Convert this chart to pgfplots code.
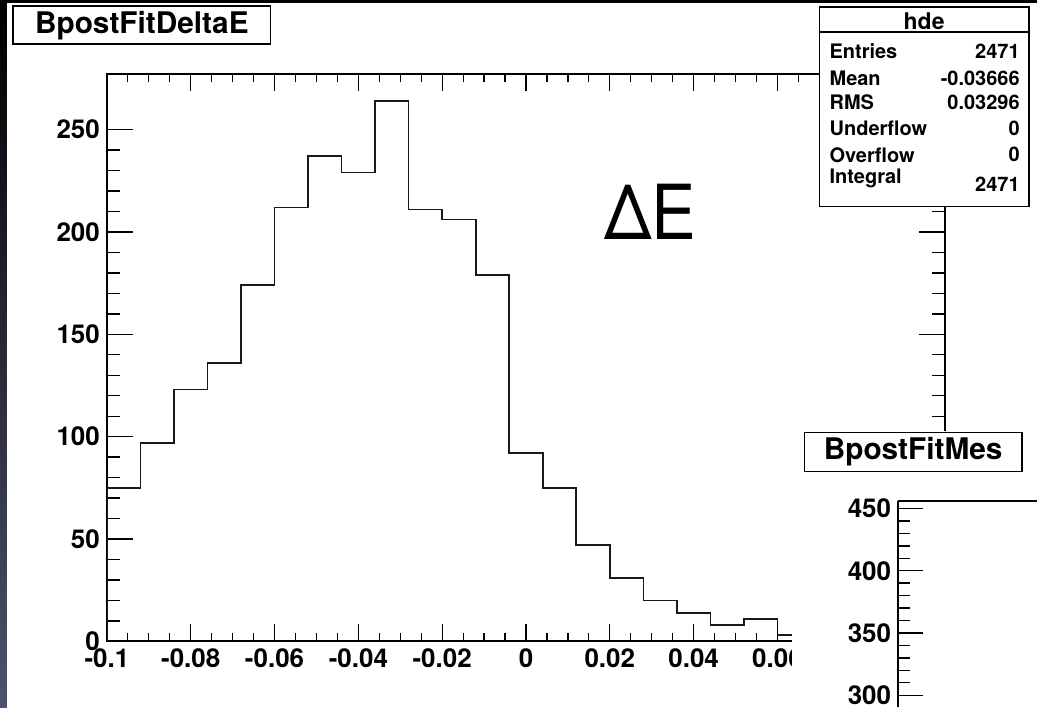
\documentclass[border=0pt]{standalone}
\usepackage{pgfplots}
\pgfplotsset{compat=1.18}
\usepackage{fontspec}
\setmainfont{TeX Gyre Heros}
\definecolor{winside}{RGB}{78,82,108}
\begin{document}
\begin{tikzpicture}[x=0.5pt,y=-0.5pt]
\fill[white] (0,0) rectangle (1038,708);
\shade[top color=black, bottom color=winside] (0,0) rectangle (7,708);
\fill[black] (0,0) rectangle (1038,3);
% title box
\draw[line width=0.6pt] (13,6) rectangle (271,44);
\node[font=\bfseries\fontsize{14.9}{15}\selectfont] at (142,25.5) {BpostFitDeltaE};
% main axis: y ticks + frame
\begin{axis}[at={(53.5pt,-37pt)}, anchor=north west, scale only axis,
  width=419.5pt, height=284pt,
  xmin=-0.1, xmax=0.1, ymin=0, ymax=277.2,
  axis line style={line width=1pt},
  tick align=inside,
  xtick=\empty,
  ytick={0,50,100,150,200,250},
  minor y tick num=4,
  major tick length=13pt, minor tick length=6.5pt,
  tick style={line width=0.7pt, black},
  /pgf/number format/assume math mode=true,
  yticklabel style={font=\bfseries\fontsize{13}{13}\selectfont}]
\addplot[const plot, black!90, line width=0.8pt] coordinates {
(-0.1,0) (-0.1,75) (-0.092,97) (-0.084,123) (-0.076,136) (-0.068,174)
(-0.06,212) (-0.052,237) (-0.044,229) (-0.036,264) (-0.028,211)
(-0.02,206) (-0.012,179) (-0.004,92) (0.004,75) (0.012,47) (0.02,31)
(0.028,20) (0.036,14) (0.044,8) (0.052,11) (0.06,3) (0.068,9)
(0.076,7) (0.084,6) (0.092,5) (0.1,5) (0.1,0)};
\end{axis}
% main axis: x ticks
\begin{axis}[at={(53.5pt,-37pt)}, anchor=north west, scale only axis,
  width=419.5pt, height=284pt,
  xmin=-0.1, xmax=0.1, ymin=0, ymax=277.2,
  axis line style={draw=none},
  tick align=inside,
  ytick=\empty,
  xtick={-0.1,-0.08,-0.06,-0.04,-0.02,0,0.02,0.04,0.06,0.08,0.1},
  xticklabels={-0.1,-0.08,-0.06,-0.04,-0.02,0,0.02,0.04,0.06,0.08,0.1},
  minor x tick num=3,
  major tick length=8.5pt, minor tick length=4pt,
  tick style={line width=0.6pt, black},
  xticklabel style={font=\bfseries\fontsize{13}{13}\selectfont}]
\end{axis}
% Delta E label
\node[font=\fontsize{38}{38}\selectfont, xscale=0.88] at (651,212) {ΔE};
% stat box
\draw[line width=0.6pt, fill=white] (820,7) rectangle (1030,207);
\draw[line width=0.6pt] (820,32) -- (1030,32);
\node[font=\bfseries\fontsize{11.5}{12}\selectfont] at (925,21) {hde};
\begin{scope}[every node/.style={font=\bfseries\fontsize{10}{10}\selectfont, inner sep=0pt}]
\node[anchor=west] at (830,51.5) {Entries};
\node[anchor=east] at (1021,51.5) {2471};
\node[anchor=west] at (830,78) {Mean};
\node[anchor=east] at (1021,78) {-0.03666};
\node[anchor=west] at (830,102) {RMS};
\node[anchor=east] at (1021,102) {0.03296};
\node[anchor=west] at (830,128) {Underflow};
\node[anchor=east] at (1021,128) {0};
\node[anchor=west] at (830,155) {Overflow};
\node[anchor=east] at (1021,155) {0};
\node[anchor=west] at (830,179) {Integral};
\node[anchor=east] at (1021,184) {2471};
\end{scope}
% second canvas overlay
\fill[white] (793,431) rectangle (1038,708);
\draw[line width=0.6pt] (805,433) rectangle (1023,472);
\node[font=\bfseries\fontsize{14.9}{15}\selectfont] at (914,452.5) {BpostFitMes};
\begin{axis}[at={(449.5pt,-250.5pt)}, anchor=north west, scale only axis,
  width=69.5pt, height=103.5pt,
  xmin=0, xmax=139, ymin=290.3, ymax=456.4,
  axis x line=top, axis y line=left,
  axis line style={line width=1pt, -},
  tick align=inside,
  xtick=\empty,
  ytick={300,350,400,450},
  minor y tick num=4,
  major tick length=12.5pt, minor tick length=6pt,
  tick style={line width=0.7pt, black},
  /pgf/number format/assume math mode=true,
  yticklabel style={font=\bfseries\fontsize{13}{13}\selectfont}]
\end{axis}
\begin{axis}[at={(449.5pt,-250.5pt)}, anchor=north west, scale only axis,
  width=69.5pt, height=103.5pt,
  xmin=0, xmax=139, ymin=290.3, ymax=456.4,
  axis x line=top, axis y line=left,
  axis line style={draw=none},
  tick align=inside,
  ytick=\empty, xtick=\empty,
  minor xtick={26,54.7,83.4,112.1},
  minor tick length=4pt,
  tick style={line width=0.6pt, black}]
\end{axis}
\end{tikzpicture}
\end{document}
